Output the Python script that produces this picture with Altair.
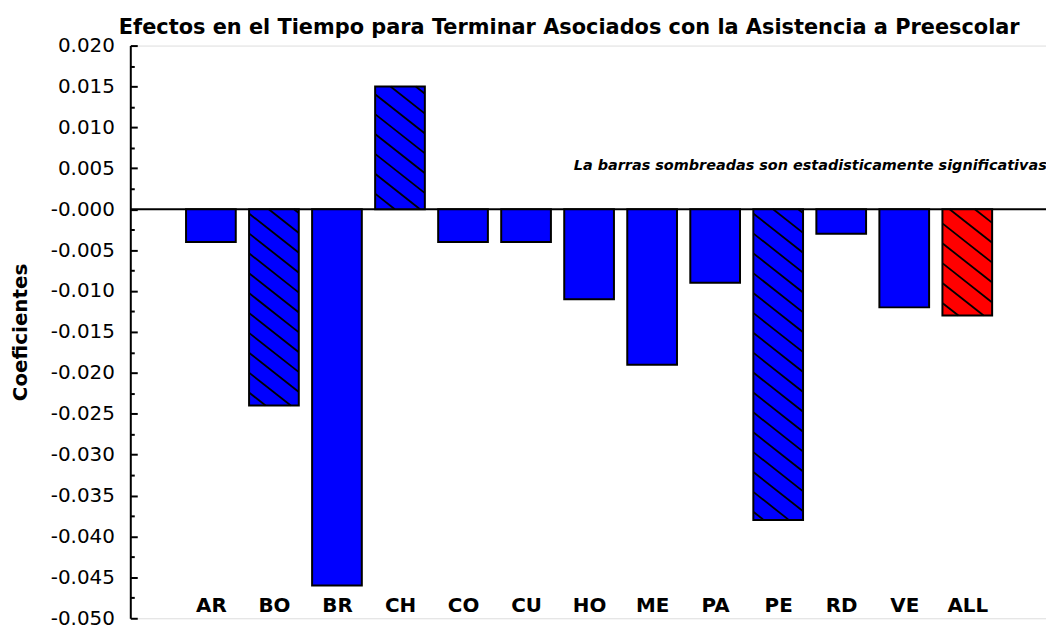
import altair as alt
import pandas as pd

# ---- data ----
categories = ["AR", "BO", "BR", "CH", "CO", "CU", "HO", "ME", "PA", "PE", "RD", "VE", "ALL"]
coefficients = [-0.004, -0.024, -0.046, 0.015, -0.004, -0.004, -0.011, -0.019, -0.009, -0.038, -0.003, -0.012, -0.013]
significant = [False, True, False, True, False, False, False, False, False, True, False, False, True]
groups = ["pais"] * 12 + ["total"]
y_tick_values = [0.020, 0.015, 0.010, 0.005, 0.0, -0.005, -0.010, -0.015, -0.020,
                 -0.025, -0.030, -0.035, -0.040, -0.045, -0.050]
y_minor_values = [0.0175, 0.0125, 0.0075, 0.0025, -0.0025, -0.0075, -0.0125, -0.0175, -0.0225,
                  -0.0275, -0.0325, -0.0375, -0.0425, -0.0475]
title_text = "Efectos en el Tiempo para Terminar Asociados con la Asistencia a Preescolar"
note_text = "La barras sombreadas son estadisticamente significativas"
y_title = "Coeficientes"

# ---- layout ----
W, H = 921, 576
XMIN, XMAX = -1.2, 13.17
YMIN, YMAX = -0.050, 0.020
BAR_W = 50

df = pd.DataFrame({
    "idx": list(range(len(categories))),
    "cat": categories,
    "coef": coefficients,
    "sig": significant,
    "grupo": groups,
})

# ---- hatch segments derived from the significant bars ----
def px(x):
    return (x - XMIN) / (XMAX - XMIN) * W

def py(y):
    return (YMAX - y) / (YMAX - YMIN) * H

def dx(p):
    return XMIN + p / W * (XMAX - XMIN)

def dy(p):
    return YMAX - p / H * (YMAX - YMIN)

slope, spacing, phase = 0.78, 20.0, 18.7
segs = []
for i, v, s in zip(range(len(categories)), coefficients, significant):
    if not s:
        continue
    xl, xr = px(i) - BAR_W / 2, px(i) + BAR_W / 2
    yt, yb = py(max(v, 0)), py(min(v, 0))
    cmin = yt - slope * xr - spacing
    cmax = yb - slope * xl + spacing
    k = int((cmin - phase) // spacing)
    while phase + k * spacing <= cmax:
        c = phase + k * spacing
        xs = max(xl, (yt - c) / slope)
        xe = min(xr, (yb - c) / slope)
        if xe - xs > 0.5:
            segs.append({"x": dx(xs), "y": dy(slope * xs + c),
                         "x2": dx(xe), "y2": dy(slope * xe + c)})
        k += 1
hatch_df = pd.DataFrame(segs)

xscale = alt.Scale(domain=[XMIN, XMAX], nice=False, zero=False)
yscale = alt.Scale(domain=[YMIN, YMAX], nice=False, zero=False)

label_expr = "[" + ",".join("'%s'" % c for c in categories) + "][datum.value]"

bars = alt.Chart(df).mark_bar(width=BAR_W, stroke="black", strokeWidth=2).encode(
    x=alt.X("idx:Q", scale=xscale,
            axis=alt.Axis(values=list(range(len(categories))), labelExpr=label_expr,
                          orient="bottom",
                          domain=False, ticks=False, tickSize=0, grid=False,
                          labelFont="DejaVu Sans", labelFontWeight="bold", labelFontSize=20,
                          labelColor="black", labelPadding=1, offset=-24, title=None,
                          labelFlush=False, labelOverlap=False)),
    y=alt.Y("coef:Q", scale=yscale,
            axis=alt.Axis(values=y_tick_values, orient="left", ticks=False, tickSize=0,
                          grid=False, domain=True, domainColor="black", domainWidth=2,
                          labelExpr="datum.value == 0 ? '-0.000' : (datum.value < 0 ? '-' : '') + format(abs(datum.value), '.3f')",
                          labelFont="DejaVu Sans", labelFontSize=20, labelColor="black",
                          labelPadding=16, labelOverlap=False, labelFlush=False,
                          title=y_title, titleFont="DejaVu Sans", titleFontSize=20,
                          titleFontWeight="bold", titleColor="black", titleAngle=270,
                          titleX=-104, titleY=288, titleAlign="center",
                          titleBaseline="alphabetic")),
    y2=alt.datum(0),
    color=alt.Color("grupo:N", scale=alt.Scale(domain=["pais", "total"],
                                               range=["#0000ff", "#ff0000"]), legend=None),
)

zero = alt.Chart(df).mark_rule(color="black", strokeWidth=2).encode(
    y=alt.Y("z:Q", scale=yscale,
            axis=alt.Axis(values=y_tick_values + y_minor_values, orient="right", offset=-W,
                          labels=False, domain=False, grid=False, title=None,
                          tickColor="black", tickWidth=2,
                          tickSize={"condition": {"test": "round(datum.value * 1000) % 5 == 0",
                                                  "value": 7}, "value": 4})),
).transform_aggregate(z="min(idx)").transform_calculate(z="0")

hatch = alt.Chart(hatch_df).mark_rule(color="black", strokeWidth=1.8).encode(
    x=alt.X("x:Q", scale=xscale, axis=None),
    x2="x2:Q",
    y=alt.Y("y:Q", scale=yscale, axis=None),
    y2="y2:Q",
)

note = alt.Chart(pd.DataFrame({"t": [note_text]})).mark_text(
    align="right", baseline="alphabetic", font="DejaVu Sans", fontSize=14.5,
    fontWeight="bold", fontStyle="italic", color="black",
).encode(
    x=alt.X(datum=13.26, scale=xscale, axis=None),
    y=alt.Y(datum=0.00474, scale=yscale, axis=None),
    text="t:N",
)

chart = alt.layer(zero, bars, hatch, note).resolve_axis(x="independent", y="independent").properties(
    width=W, height=H,
    autosize=alt.AutoSizeParams(type="none"),
    padding={"left": 123, "top": 36, "right": 0, "bottom": 9},
    title=alt.TitleParams(title_text, font="DejaVu Sans", fontSize=21, fontWeight="bold",
                          color="black", anchor="middle", dx=-19, offset=-2),
).configure_view(stroke=None).configure(background="white")

chart.save("out.html", embed_options={"renderer": "svg", "actions": False})
